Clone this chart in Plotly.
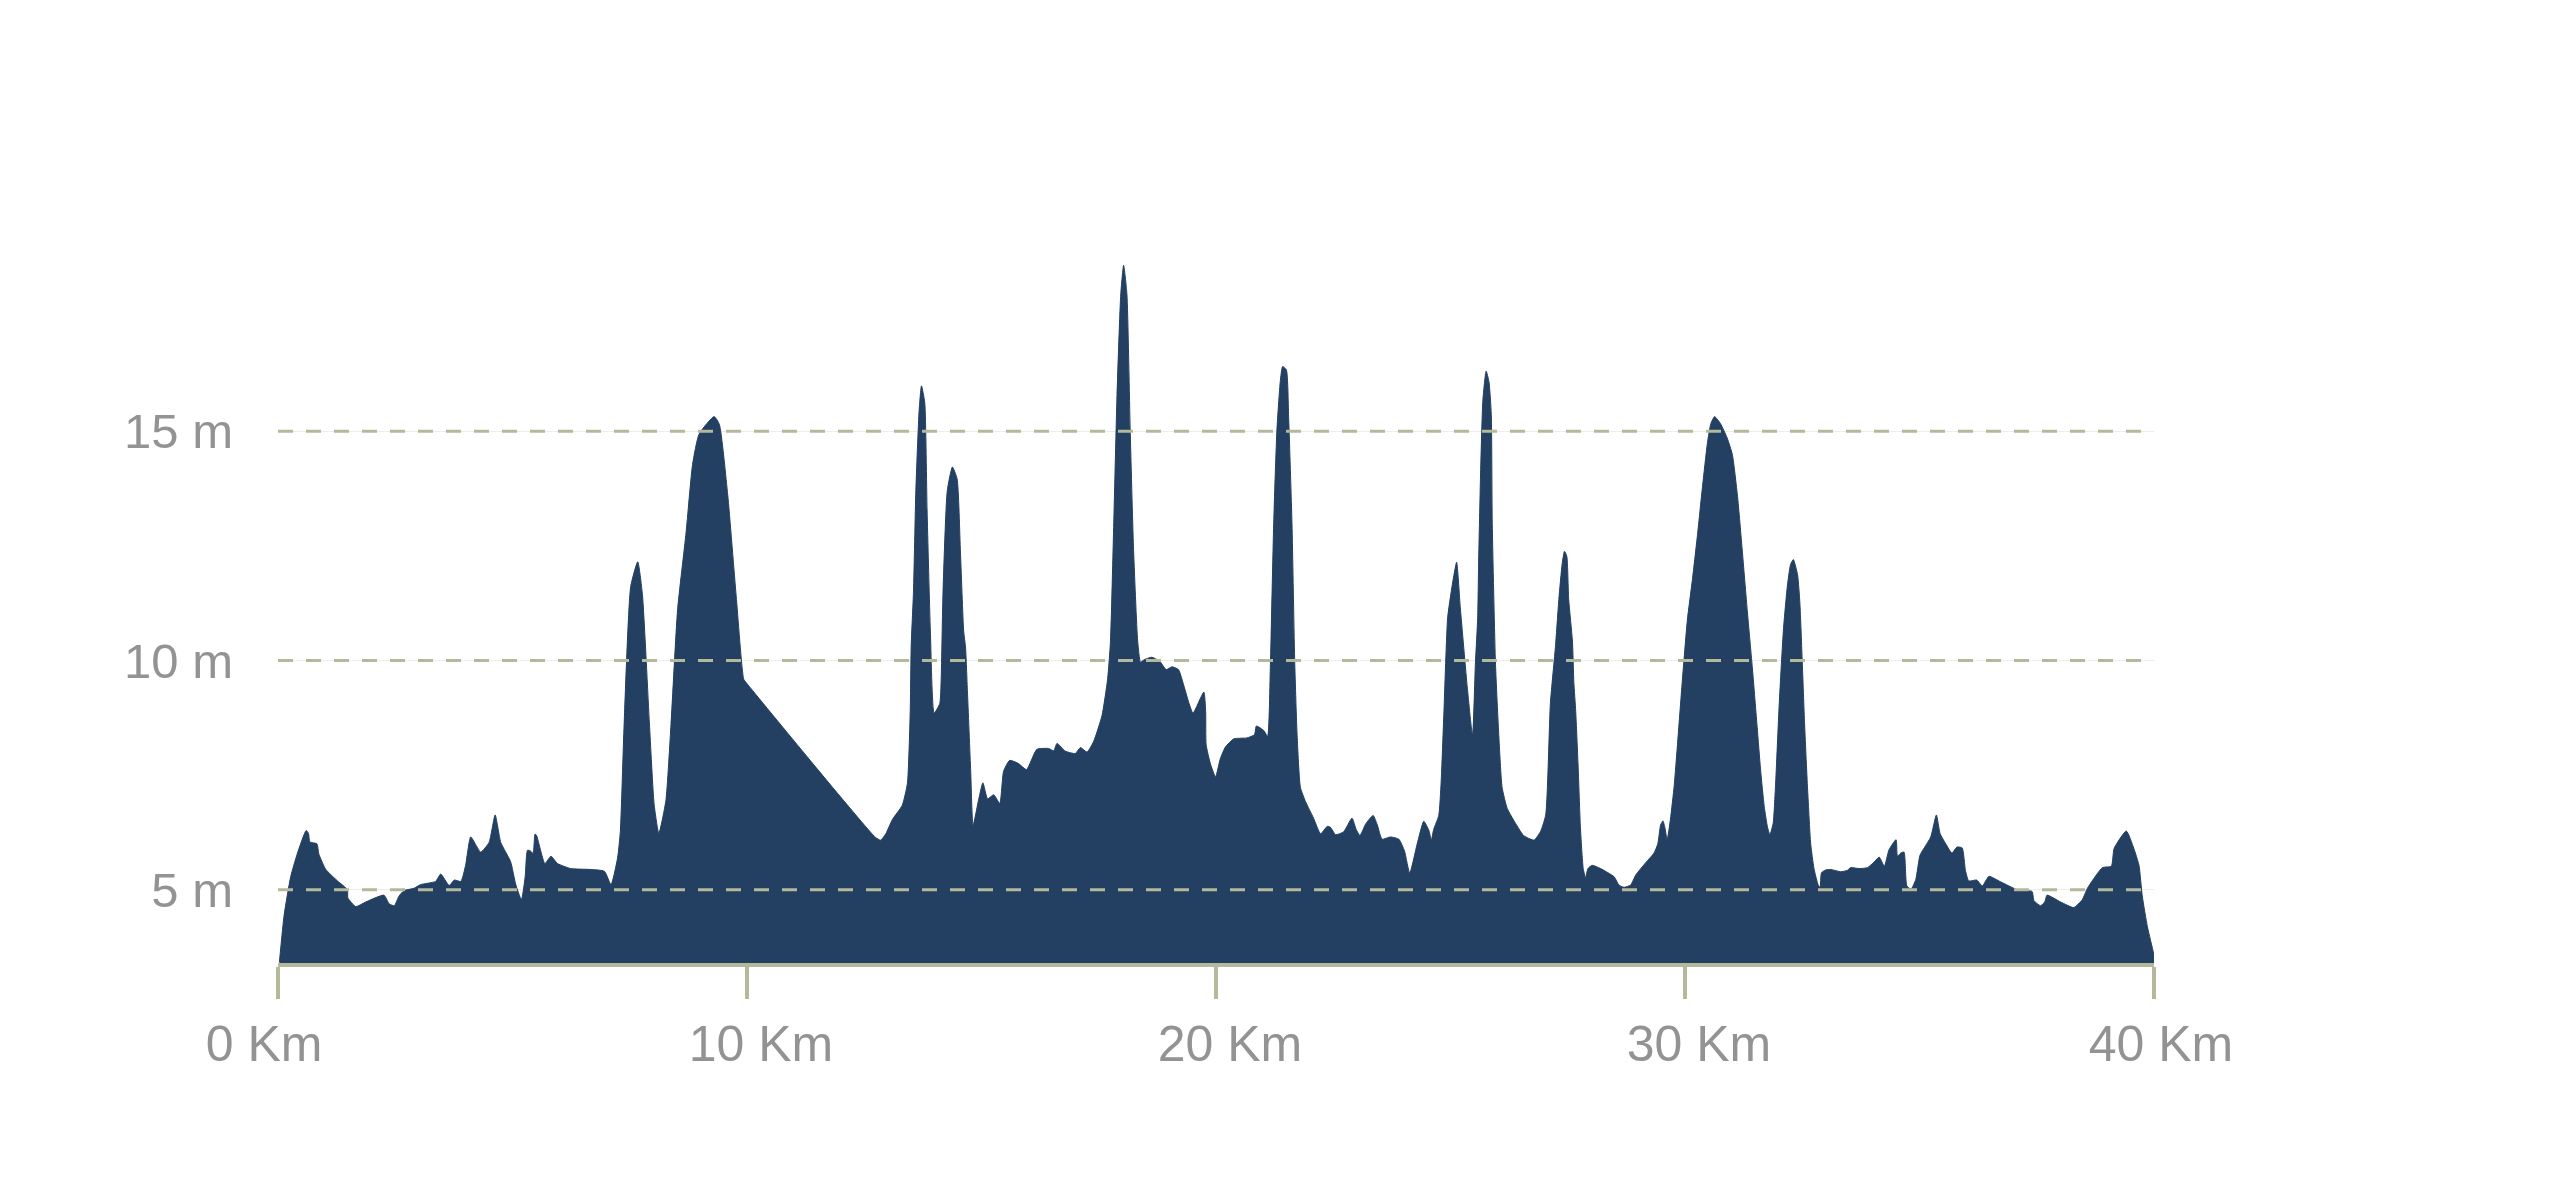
import plotly.graph_objects as go

# Distance along route (km) and elevation (m)
km = [
    0.03, 0.13, 0.27, 0.41, 0.60, 0.65, 0.68, 0.83, 0.87, 1.02, 1.27, 1.48, 1.49, 1.66, 1.87,
    2.26, 2.37, 2.48, 2.58, 2.69, 2.90, 3.04, 3.36, 3.47, 3.65, 3.76, 3.90, 4.00, 4.11, 4.32,
    4.50, 4.63, 4.75, 4.96, 5.07, 5.19, 5.27, 5.32, 5.39, 5.44, 5.48, 5.51, 5.69, 5.82, 5.96,
    6.24, 6.67, 6.96, 7.10, 7.24, 7.30, 7.38, 7.52, 7.67, 7.77, 7.92, 8.02, 8.12, 8.27, 8.38,
    8.52, 8.70, 8.84, 8.98, 9.30, 9.41, 9.59, 9.77, 9.93, 9.98,
    12.74, 12.85, 12.96, 13.10, 13.31, 13.42, 13.48, 13.50, 13.55, 13.60, 13.67, 13.72, 13.79,
    13.84, 13.91, 13.99, 14.11, 14.14, 14.18, 14.27, 14.38, 14.48, 14.55, 14.62, 14.66, 14.70,
    14.77, 14.82, 14.94, 15.03, 15.13, 15.26, 15.39, 15.47, 15.60, 15.79, 15.96, 16.18, 16.43,
    16.54, 16.61, 16.79, 17.00, 17.11, 17.25, 17.39, 17.57, 17.69, 17.75, 17.82, 17.89, 17.97,
    18.03, 18.10, 18.17, 18.24, 18.33, 18.39, 18.46, 18.63, 18.80, 18.94, 19.06, 19.20, 19.30,
    19.42, 19.51, 19.74, 19.78, 19.79, 19.88, 19.99, 20.09, 20.20, 20.38, 20.66, 20.82, 20.86,
    21.02, 21.10, 21.16, 21.23, 21.30, 21.37, 21.42, 21.50, 21.55, 21.62, 21.68, 21.73, 21.80,
    21.91, 22.08, 22.23, 22.37, 22.44, 22.55, 22.72, 22.90, 22.99, 23.07, 23.19, 23.35, 23.44,
    23.54, 23.72, 23.90, 24.02, 24.13, 24.29, 24.43, 24.54, 24.59, 24.64, 24.75, 24.80, 24.86,
    24.94, 25.04, 25.13, 25.21, 25.36, 25.47, 25.53, 25.58, 25.60, 25.64, 25.69, 25.76, 25.82,
    25.87, 25.89, 25.96, 26.03, 26.10, 26.21, 26.35, 26.56, 26.78, 26.92, 27.03, 27.13, 27.24,
    27.31, 27.38, 27.43, 27.48, 27.52, 27.60, 27.63, 27.67, 27.72, 27.77, 27.83, 27.88, 27.93,
    28.02, 28.20, 28.49, 28.59, 28.70, 28.84, 28.95, 29.13, 29.34, 29.42, 29.48, 29.53, 29.57,
    29.62, 29.69, 29.77, 29.84, 29.94, 30.05, 30.16, 30.26, 30.37, 30.48, 30.55, 30.63, 30.76,
    30.90, 31.01, 31.12, 31.22, 31.33, 31.44, 31.54, 31.61, 31.69, 31.76, 31.81, 31.88, 31.93,
    32.01, 32.10, 32.18, 32.25, 32.31, 32.40, 32.45, 32.50, 32.55, 32.61, 32.68, 32.75, 32.84,
    32.88, 32.91, 33.00, 33.11, 33.32, 33.46, 33.53, 33.71, 33.89, 34.03, 34.14, 34.25, 34.35,
    34.50, 34.53, 34.60, 34.67, 34.73, 34.82, 34.92, 35.01, 35.10, 35.24, 35.36, 35.44, 35.56,
    35.69, 35.80, 35.91, 35.98, 36.05, 36.22, 36.34, 36.48, 36.73, 37.08, 37.40, 37.44, 37.58,
    37.67, 37.72, 38.01, 38.29, 38.47, 38.58, 38.90, 39.09, 39.15, 39.41, 39.57, 39.68, 39.75,
    39.86, 39.99, 40.0,
]
elevation = [
    3.42, 4.44, 5.28, 5.78, 6.29, 6.23, 6.04, 6.00, 5.78, 5.44, 5.19, 5.00, 4.82, 4.63, 4.73,
    4.88, 4.69, 4.65, 4.86, 4.98, 5.03, 5.11, 5.18, 5.34, 5.09, 5.21, 5.18, 5.53, 6.15, 5.82,
    6.03, 6.63, 6.03, 5.61, 5.11, 4.78, 5.28, 5.86, 5.84, 5.79, 6.21, 6.19, 5.57, 5.73, 5.57,
    5.46, 5.44, 5.40, 5.11, 5.69, 6.28, 8.61, 11.61, 12.15, 11.44, 8.61, 6.86, 6.23, 6.94, 8.61,
    11.11, 12.78, 14.28, 14.94, 15.32, 15.15, 13.60, 11.40, 9.59, 9.52,
    6.14, 6.08, 6.22, 6.53, 6.84, 7.32, 8.89, 10.29, 11.51, 13.70, 15.45, 15.99, 15.62,
    13.26, 10.64, 8.85, 9.06, 9.59, 11.51, 13.70, 14.22, 13.96, 12.39, 10.64, 10.29, 9.33,
    7.58, 6.40, 6.97, 7.33, 6.98, 7.07, 6.88, 7.58, 7.82, 7.75, 7.62, 8.06, 8.08,
    8.03, 8.19, 8.02, 7.97, 8.10, 8.00, 8.23, 8.80, 9.60, 10.42, 13.00, 15.80, 18.00,
    18.62, 18.00, 15.05, 12.48, 10.42, 9.96, 10.01, 10.07, 9.98, 9.80, 9.86, 9.80, 9.50,
    9.08, 8.85, 9.31, 8.88, 8.16, 7.75, 7.46, 7.85, 8.11, 8.29, 8.31, 8.38, 8.57,
    8.47, 8.34, 9.91, 12.99, 15.05, 16.08, 16.41, 16.34, 15.26, 12.99, 9.91, 8.36, 7.23,
    6.92, 6.56, 6.22, 6.38, 6.36, 6.20, 6.26, 6.56, 6.31, 6.18, 6.43, 6.62, 6.41,
    6.10, 6.15, 6.10, 5.84, 5.36, 6.00, 6.49, 6.29, 6.08, 6.31, 6.62, 7.34, 8.88,
    10.94, 11.66, 12.14, 11.14, 9.39, 8.36, 9.91, 10.94, 12.17, 14.02, 15.67, 16.31, 16.08,
    15.36, 12.99, 9.91, 8.36, 7.23, 6.77, 6.51, 6.18, 6.08, 6.27, 6.63, 9.07, 10.33,
    11.33, 12.10, 12.38, 12.27, 11.33, 10.42, 9.52, 8.89, 7.72, 6.36, 5.46, 5.26, 5.46,
    5.53, 5.46, 5.28, 5.10, 5.05, 5.10, 5.32, 5.55, 5.80, 6.00, 6.41, 6.50, 6.36,
    6.09, 6.54, 7.27, 8.17, 9.52, 10.88, 11.78, 12.68, 13.76, 14.76, 15.16, 15.32, 15.16,
    14.85, 14.49, 13.58, 12.41, 11.06, 9.79, 8.53, 7.63, 6.81, 6.36, 6.20, 6.45, 7.27,
    9.07, 10.69, 11.60, 12.09, 12.20, 11.87, 11.24, 9.97, 8.62, 7.27, 6.00, 5.46, 5.10,
    5.05, 5.37, 5.43, 5.44, 5.39, 5.42, 5.48, 5.46, 5.48, 5.60, 5.71, 5.51, 5.87,
    6.09, 5.73, 5.80, 5.82, 5.08, 5.01, 5.22, 5.75, 5.91, 6.15, 6.63, 6.22, 6.00,
    5.80, 5.93, 5.91, 5.42, 5.19, 5.21, 5.08, 5.29, 5.17, 5.00, 4.96, 4.76, 4.65,
    4.73, 4.88, 4.73, 4.61, 4.78, 5.03, 5.48, 5.51, 5.90, 6.28, 5.90, 5.53, 4.86,
    4.19, 3.62, 3.57,
]

x_ticks = [0, 10, 20, 30, 40]
x_tick_text = ["0 Km\u00a0\u00a0", "\u00a0\u00a010 Km", "\u00a0\u00a020 Km", "\u00a0\u00a030 Km", "\u00a040 Km"]
y_ticks = [5, 10, 15]
y_tick_text = ["5 m", "10 m", "15 m"]
x_range = [0, 40]
y_range = [3.4, 20]

NAVY = "#233f61"
OLIVE = "#b4b99b"
LABEL = "#939393"
FONT = "Liberation Sans, Arial, Helvetica, sans-serif"

fig = go.Figure()
fig.add_trace(go.Scatter(
    x=km, y=elevation, mode="lines", fill="tozeroy",
    fillcolor=NAVY,
    line=dict(color=NAVY, width=1, shape="spline", smoothing=0.5),
    hoverinfo="skip", showlegend=False,
))

for v in y_ticks:
    fig.add_shape(type="line", xref="paper", x0=0, x1=1, yref="y", y0=v, y1=v,
                  line=dict(color=OLIVE, width=3, dash="15px,13px"), layer="above")

fig.update_layout(
    width=2560, height=1192,
    margin=dict(l=277.5, r=406, t=201.5, b=229, pad=0),
    paper_bgcolor="white", plot_bgcolor="white",
    showlegend=False,
    xaxis=dict(
        range=x_range, tickvals=x_ticks, ticktext=x_tick_text,
        showgrid=False, zeroline=False,
        showline=True, linecolor=OLIVE, linewidth=4,
        ticks="outside", ticklen=32, tickwidth=4, tickcolor=OLIVE,
        tickfont=dict(family=FONT, size=50, color=LABEL),
        ticklabelstandoff=2,
    ),
    yaxis=dict(
        range=y_range, tickvals=y_ticks, ticktext=y_tick_text,
        showgrid=True, gridcolor="#ececec", gridwidth=1,
        zeroline=False, showline=False, ticks="",
        tickfont=dict(family=FONT, size=49, color=LABEL),
        ticklabelstandoff=44,
    ),
)

fig.write_html("out.html", config={"displayModeBar": False},
               post_script="document.body.style.margin='0';document.body.style.overflow='hidden';")
